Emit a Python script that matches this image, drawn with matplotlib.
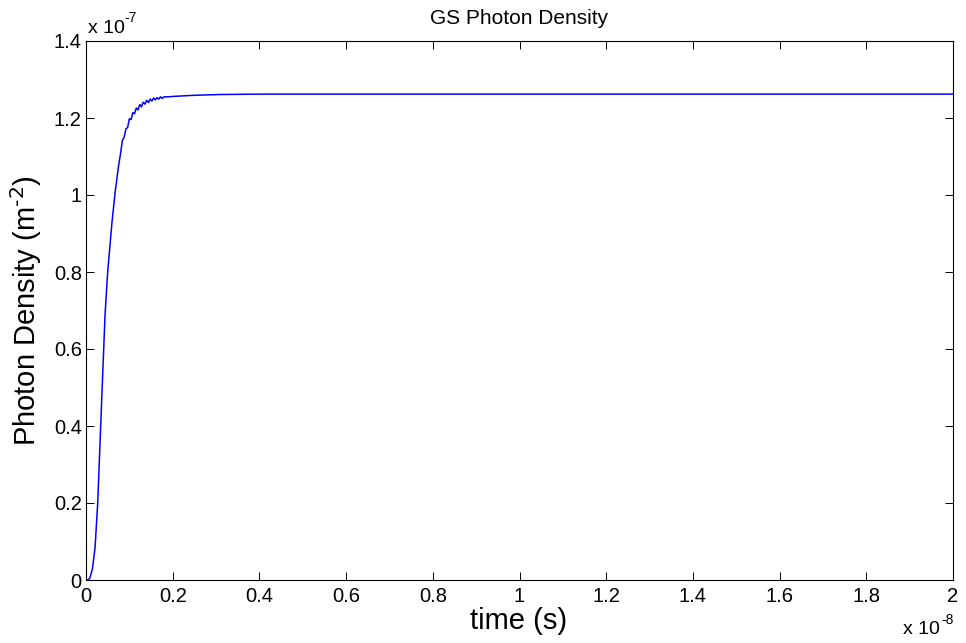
import numpy as np
import matplotlib.pyplot as plt

plt.rcParams['font.family'] = ['Liberation Sans', 'DejaVu Sans']

# time in units of 1e-8 s, density in units of 1e-7 m^-2
t = [0.0, 0.005, 0.009, 0.015, 0.021, 0.027, 0.032, 0.038, 0.044, 0.050,
     0.055, 0.060, 0.067, 0.071, 0.075, 0.080, 0.084, 0.088, 0.092, 0.096,
     0.100, 0.104, 0.108, 0.112, 0.116, 0.120, 0.124, 0.128, 0.132, 0.136,
     0.140, 0.144, 0.148, 0.152, 0.156, 0.160, 0.164, 0.168, 0.172, 0.176,
     0.180, 0.190, 0.200, 0.250, 0.310, 0.400, 1.000, 2.000]
dens = [0.0, 0.0005, 0.005, 0.03, 0.086, 0.20, 0.345, 0.52, 0.69, 0.80,
        0.865, 0.93, 1.005, 1.04, 1.075, 1.110, 1.142, 1.150, 1.172, 1.175,
        1.198, 1.196, 1.214, 1.211, 1.226, 1.221, 1.235, 1.229, 1.241, 1.236,
        1.246, 1.240, 1.249, 1.244, 1.252, 1.247, 1.253, 1.249, 1.255, 1.251,
        1.255, 1.255, 1.256, 1.259, 1.261, 1.262, 1.262, 1.262]

xticks = [0, 0.2, 0.4, 0.6, 0.8, 1, 1.2, 1.4, 1.6, 1.8, 2]
xlabels = ['0', '0.2', '0.4', '0.6', '0.8', '1', '1.2', '1.4', '1.6', '1.8', '2']
yticks = [0, 0.2, 0.4, 0.6, 0.8, 1, 1.2, 1.4]
ylabels = ['0', '0.2', '0.4', '0.6', '0.8', '1', '1.2', '1.4']

fig = plt.figure(figsize=(9.66, 6.43), dpi=100)
ax = fig.add_axes([86/966, 1 - 580/643, (953-86)/966, (580-41)/643])
ax.plot(t, dens, color='#0000ff', lw=1.1)

ax.set_xlim(0, 2)
ax.set_ylim(0, 1.4)
ax.set_xticks(xticks)
ax.set_xticklabels(xlabels)
ax.set_yticks(yticks)
ax.set_yticklabels(ylabels)
ax.tick_params(direction='in', length=5.8, width=0.7, labelsize=14.5,
               top=True, right=True)
ax.tick_params(axis='x', pad=5)
ax.tick_params(axis='y', pad=3)
for s in ax.spines.values():
    s.set_linewidth(0.8)

# hyphen instead of a minus sign in the exponents, like the original
ax.set_ylabel('Photon Density (m$^{\\mathrm{\u2010}2}$)', fontsize=21, labelpad=7)
fig.text(519/966, 1 - 18/643, 'GS Photon Density', fontsize=15, ha='center', va='center')
fig.text(519/966, 1 - 621/643, 'time (s)', fontsize=21, ha='center', va='center')

fig.text(88/966, 1 - 33/643, 'x 10', fontsize=14, ha='left', va='baseline')
fig.text(124/966, 1 - 22/643, '-7', fontsize=10, ha='left', va='baseline')
fig.text(940/966, 1 - 634/643, 'x 10', fontsize=14, ha='right', va='baseline')
fig.text(941/966, 1 - 624/643, '-8', fontsize=10, ha='left', va='baseline')

fig.savefig('out.png', dpi=100)
